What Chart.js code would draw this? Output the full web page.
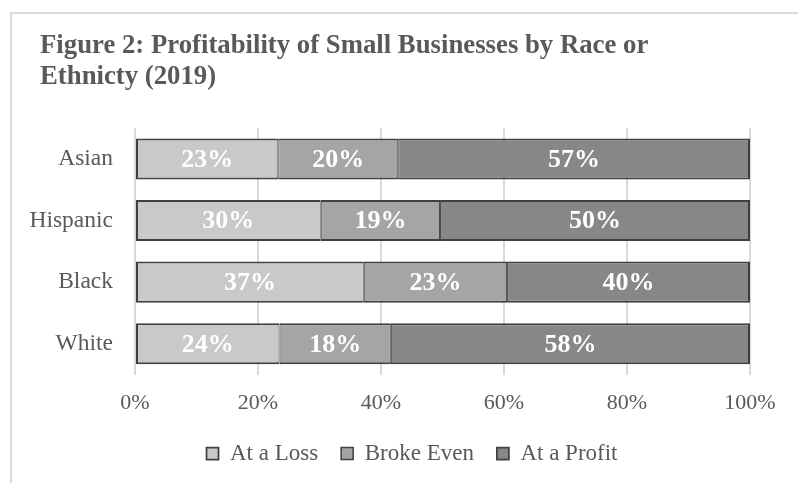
<!DOCTYPE html>
<html>
<head>
<meta charset="utf-8">
<script src="https://cdn.jsdelivr.net/npm/chart.js@4"></script>
<style>
  html, body { margin: 0; padding: 0; background: #fff; overflow: hidden; }
  #frame {
    position: absolute; left: 10px; top: 12px;
    width: 900px; height: 600px;
    border: 2px solid #d9d9d9;
  }
  #wrap { position: absolute; left: 0; top: 0; width: 798px; height: 483px; }
</style>
</head>
<body>
<div id="frame"></div>
<div id="wrap"><canvas id="chartBar"></canvas></div>
<script>
var categories = ["Asian", "Hispanic", "Black", "White"];
var atLoss = [23.3, 30.2, 37.2, 23.5];
var brokeEven = [19.5, 19.4, 23.3, 18.1];
var atProfit = [57.2, 50.4, 39.5, 58.4];
var xTicks = [0, 20, 40, 60, 80, 100];

var textGray = "#595959";
var serif = "'Liberation Serif', 'Times New Roman', serif";

// white bold percentages in the middle of each segment
var barLabels = {
    id: "barLabels",
    afterDatasetsDraw: function (chart) {
        var ctx = chart.ctx;
        ctx.save();
        ctx.font = "bold 26px " + serif;
        ctx.fillStyle = "#ffffff";
        ctx.textAlign = "center";
        ctx.textBaseline = "middle";
        chart.data.datasets.forEach(function (ds, i) {
            chart.getDatasetMeta(i).data.forEach(function (bar, j) {
                var c = bar.getCenterPoint();
                ctx.fillText(Math.round(ds.data[j]) + "%", c.x, c.y + 1);
            });
        });
        ctx.restore();
    }
};

// title sits further right than the category labels, legend is centred a bit right and higher
var nudge = {
    id: "nudge",
    afterLayout: function (chart) {
        if (chart.titleBlock) {
            chart.titleBlock.left += 20;
            chart.titleBlock.right += 20;
        }
        if (chart.legend) {
            chart.legend.left += 10;
            chart.legend.right += 10;
            chart.legend.top -= 12;
            chart.legend.bottom -= 12;
        }
    }
};

var ourBar = document.getElementById("chartBar");

var barChart = new Chart(ourBar, {
    type: 'bar',
    data: {
        labels: categories,
        datasets: [
            {
                label: 'At a Loss',
                data: atLoss,
                backgroundColor: '#c9c9c9',
                borderColor: '#404040',
                borderWidth: { top: 2, bottom: 2, left: 2, right: 1 },
                borderSkipped: false
            },
            {
                label: 'Broke Even',
                data: brokeEven,
                backgroundColor: '#a5a5a5',
                borderColor: '#404040',
                borderWidth: { top: 2, bottom: 2, left: 1, right: 1 },
                borderSkipped: false
            },
            {
                label: 'At a Profit',
                data: atProfit,
                backgroundColor: '#878787',
                borderColor: '#404040',
                borderWidth: { top: 2, bottom: 2, left: 1, right: 2 },
                borderSkipped: false
            }
        ]
    },
    options: {
        indexAxis: 'y',
        responsive: true,
        maintainAspectRatio: false,
        animation: false,
        barPercentage: 0.667,
        categoryPercentage: 1,
        layout: {
            padding: { left: 20, right: 14, top: 0, bottom: -4 }
        },
        scales: {
            x: {
                stacked: true,
                min: 0,
                max: 100,
                afterBuildTicks: function (scale) {
                    scale.ticks = xTicks.map(function (v) { return { value: v }; });
                },
                ticks: {
                    color: textGray,
                    padding: 15,
                    font: { family: serif, size: 22 },
                    callback: function (v) { return v + '%'; }
                },
                grid: {
                    color: '#d9d9d9',
                    lineWidth: 2,
                    drawTicks: false
                },
                border: { display: false }
            },
            y: {
                stacked: true,
                afterFit: function (scale) { scale.width = 115; },
                ticks: {
                    color: textGray,
                    padding: 22,
                    font: { family: serif, size: 23.5 }
                },
                grid: { display: false, drawTicks: false },
                border: { display: false }
            },
            spacer: {
                type: 'linear',
                axis: 'y',
                position: 'right',
                afterFit: function (scale) { scale.width = 34; },
                ticks: { display: false },
                grid: { display: false },
                border: { display: false }
            }
        },
        plugins: {
            title: {
                display: true,
                align: 'start',
                text: ['Figure 2: Profitability of Small Businesses by Race or', 'Ethnicty (2019)'],
                color: textGray,
                padding: { top: 30, bottom: 35 },
                font: { family: serif, size: 26.75, weight: 'bold', lineHeight: 1.18 }
            },
            legend: {
                display: true,
                position: 'bottom',
                labels: {
                    boxWidth: 12,
                    boxHeight: 12,
                    padding: 23,
                    color: textGray,
                    font: { family: serif, size: 23 }
                }
            },
            tooltip: { enabled: false }
        }
    },
    plugins: [barLabels, nudge]
});
</script>
</body>
</html>
